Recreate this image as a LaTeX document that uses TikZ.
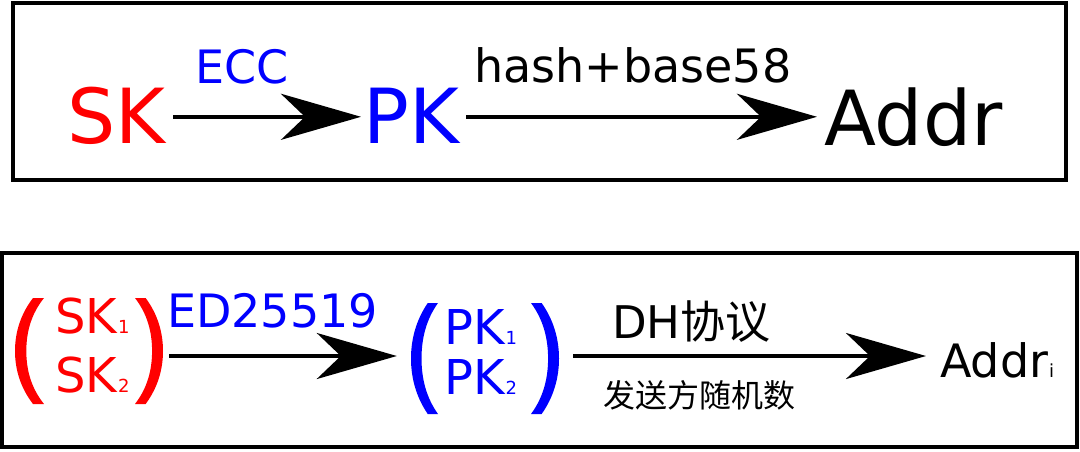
\documentclass[tikz,border=0pt]{standalone}
\usepackage{fontspec}
\setmainfont{DejaVu Sans}
\newfontfamily\cjk{Noto Sans CJK SC}
\usetikzlibrary{arrows.meta}
\definecolor{pred}{RGB}{255,0,0}
\definecolor{pblue}{RGB}{0,0,255}
\newcommand{\subs}[1]{\kern1pt{\fontsize{18}{18}\selectfont #1}}
\tikzset{
  frame/.style={draw=black, line width=4pt, inner sep=0pt},
  lbl/.style={inner sep=0pt, anchor=base west},
  big/.style={inner sep=0pt, anchor=base west, font=\fontsize{76}{76}\selectfont, text height=55.4pt, text depth=3pt},
  mid48/.style={inner sep=0pt, anchor=base west, font=\fontsize{48}{48}\selectfont},
  grp/.style={inner sep=0pt, minimum height=106pt},
  arr/.style={line width=4pt, -{Stealth[length=80pt,width=46pt,inset=24pt]}},
  paren/.pic={\fill (0.62,0) .. controls (0.2,0.15) and (0,0.32) .. (0,0.5)
      .. controls (0,0.68) and (0.2,0.85) .. (0.62,1) -- (1,1)
      .. controls (0.56,0.85) and (0.39,0.68) .. (0.39,0.5)
      .. controls (0.39,0.32) and (0.56,0.15) .. (1,0) -- cycle;}
}
\begin{document}
\begin{tikzpicture}[x=1pt,y=-1pt]
\useasboundingbox[fill=white] (0,0) rectangle (1080,451);
% frames
\node[frame, minimum width=1052.5pt, minimum height=177pt] (topframe) at (539.25,91.5) {};
\node[frame, minimum width=1075pt, minimum height=194pt] (botframe) at (539.5,350) {};
% top row
\node[big, text=pred] (sk) at (67,143) {SK};
\node[big, text=pblue] (pk) at (363,143) {PK};
\node[big] (addr) at (824,145) {Addr};
\node[lbl, text=pblue, font=\fontsize{46}{46}\selectfont] (ecc) at (195,83) {ECC};
\node[lbl, font=\fontsize{46}{46}\selectfont] (hash) at (474,82) {hash+base58};
\draw[arr, shorten <=8pt, shorten >=2pt] (sk.east) -- (sk.east -| pk.west);
\draw[arr, shorten <=7pt, shorten >=7pt] (pk.east) -- (pk.east -| addr.west);
% bottom row
\pic[pred, xscale=29, yscale=106] at (15,298) {paren};
\pic[pred, xscale=-28, yscale=106] at (163,298) {paren};
\pic[pblue, xscale=27, yscale=111] at (411,303) {paren};
\pic[pblue, xscale=-28, yscale=111] at (559,303) {paren};
\node[grp, minimum width=148pt] (skg) at (89,356) {};
\node[grp, minimum width=148pt] (pkg) at (485,356) {};
\node[mid48, text=pred] (sk1) at (55,333) {SK\subs{1}};
\node[mid48, text=pred] (sk2) at (55,392) {SK\subs{2}};
\node[mid48, text=pblue] (pk1) at (444,344) {PK\subs{1}};
\node[mid48, text=pblue] (pk2) at (444,394) {PK\subs{2}};
\node[lbl, text=pblue, font=\fontsize{46}{46}\selectfont] (ed) at (167,327) {ED25519};
\node[lbl, font=\fontsize{45}{45}\selectfont] (dh) at (612,338) {DH{\cjk 协议}};
\node[lbl, font=\fontsize{32}{32}\selectfont] (rnd) at (603,407) {\cjk 发送方随机数};
\node[lbl, font=\fontsize{46}{46}\selectfont] (addri) at (940,377) {Addr\subs{i}};
\draw[arr, shorten <=6pt, shorten >=14pt] (skg.east) -- (skg.east -| pkg.west);
\draw[arr, shorten <=14pt, shorten >=14pt] (pkg.east) -- (pkg.east -| addri.west);
\end{tikzpicture}
\end{document}
